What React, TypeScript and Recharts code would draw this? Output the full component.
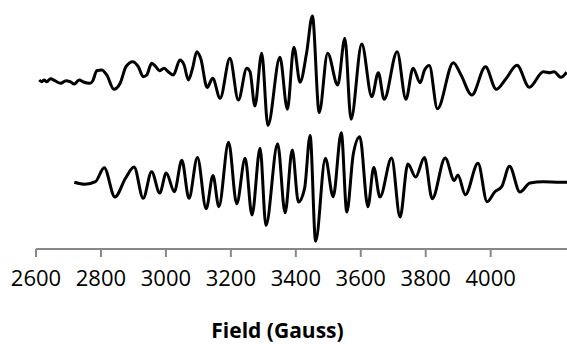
import React from 'react';
import { LineChart, Line, XAxis, YAxis } from 'recharts';

// Field positions (Gauss) and signal amplitudes (arbitrary units)
const topField = [
  2610, 2618, 2625, 2633, 2645, 2658, 2676, 2692, 2705, 2718, 2733, 2746, 2766, 2775, 2787, 2802,
  2818, 2840, 2859, 2877, 2898, 2915, 2930, 2941, 2956, 2969, 2980, 2994, 3007, 3023, 3043, 3056,
  3069, 3082, 3095, 3107, 3127, 3144, 3167, 3197, 3223, 3249, 3259, 3274, 3295, 3314, 3351, 3374,
  3394, 3413, 3433, 3451, 3472, 3498, 3529, 3551, 3570, 3603, 3634, 3654, 3672, 3712, 3739, 3761,
  3783, 3796, 3811, 3836, 3885, 3908, 3942, 3984, 4017, 4046, 4081, 4119, 4162, 4183, 4195, 4216,
  4234,
];
const topSignal = [
  0, -1.7, 0, -1.7, 1.3, -0.7, -3.3, -0.7, -1.7, -4, 0, -2, -3.3, -0.7, 9.3, 10,
  5, -9.3, -3.3, 13.3, 18.3, 13.3, 3.3, 5, 16.7, 13.3, 9.3, 11.7, 8.3, 5, 20, 15,
  0, 11.7, 28.3, 21.7, -7.5, 1.7, -18.3, 21.7, -20, 11.7, 8.3, -26, 26.7, -45.5, 22.7, -29.3,
  32.7, -2.2, 26.7, 64, -32.5, 26.7, -5, 41.7, -39.3, 36, -16.7, 7.3, -19.3, 28.3, -19.3, 11.7,
  -2.7, 9.7, 14.5, -28.8, 17.3, 5.5, -15, 13.3, -9.3, 0.7, 14.8, -7.3, 8.3, 7.3, 8.3, 2.7,
  7.8,
];

const bottomField = [
  2718, 2751, 2783, 2810, 2843, 2876, 2902, 2930, 2956, 2981, 3001, 3026, 3049, 3071, 3097, 3124,
  3145, 3163, 3193, 3218, 3244, 3265, 3290, 3308, 3344, 3367, 3389, 3408, 3427, 3444, 3461, 3491,
  3515, 3540, 3557, 3577, 3597, 3622, 3640, 3659, 3695, 3721, 3745, 3769, 3796, 3820, 3860, 3888,
  3899, 3922, 3961, 3989, 4013, 4034, 4058, 4090, 4121, 4162, 4213, 4235,
];
const bottomSignal = [
  -0.3, -2.3, 0.3, 14.3, -15, 4, 15, -16.3, 10.3, -11, 9, -9.7, 21.7, -16.3, 24.5, -26.8,
  6.5, -24.7, 39.7, -21.8, 23.7, -33, 33.7, -43.5, 38.2, -30.8, 32, -20, -6.3, 46.5, -59.3, 23.7,
  -14.7, 49.2, -30, 28, 45.3, -24.7, 14.5, -15, 24, -35, 18, 5, 24.5, -16.7, 24, 1.5,
  7, -12.7, 18.7, -19.7, -9.7, -4.7, 15.7, -10, -1, 0.3, -0.3, -0.3,
];

const xTicks = [2600, 2800, 3000, 3200, 3400, 3600, 3800, 4000];

const TOP_OFFSET = 169;
const BOTTOM_OFFSET = 67;

const topData = topField.map((f, i) => ({ field: f, value: TOP_OFFSET + topSignal[i] }));
const bottomData = bottomField.map((f, i) => ({ field: f, value: BOTTOM_OFFSET + bottomSignal[i] }));

const FONT = '"Open Sans", "Noto Sans", sans-serif';

export default function App() {
  return (
    <div style={{ position: 'absolute', left: 0, top: 0, width: 567, height: 344, background: '#fff' }}>
      <LineChart width={567} height={344} margin={{ top: 0, right: 0, bottom: 0, left: 36 }}>
        <XAxis
          type="number"
          dataKey="field"
          domain={[2600, 4235]}
          allowDataOverflow
          ticks={xTicks}
          height={95}
          tickSize={8}
          tickMargin={13}
          axisLine={{ stroke: '#888888', strokeWidth: 2 }}
          tickLine={{ stroke: '#888888', strokeWidth: 2 }}
          tick={{ fill: '#000', fontSize: 22, fontFamily: FONT }}
          label={{
            value: 'Field (Gauss)',
            position: 'insideBottom',
            offset: 6,
            dx: -24,
            style: { fill: '#000', fontSize: 21, fontWeight: 700, fontFamily: FONT },
          }}
        />
        <YAxis hide type="number" domain={[0, 249]} allowDataOverflow />
        <Line
          data={topData}
          dataKey="value"
          type="monotone"
          stroke="#000"
          strokeWidth={3}
          dot={false}
          isAnimationActive={false}
        />
        <Line
          data={bottomData}
          dataKey="value"
          type="monotone"
          stroke="#000"
          strokeWidth={3}
          dot={false}
          isAnimationActive={false}
        />
      </LineChart>
    </div>
  );
}
